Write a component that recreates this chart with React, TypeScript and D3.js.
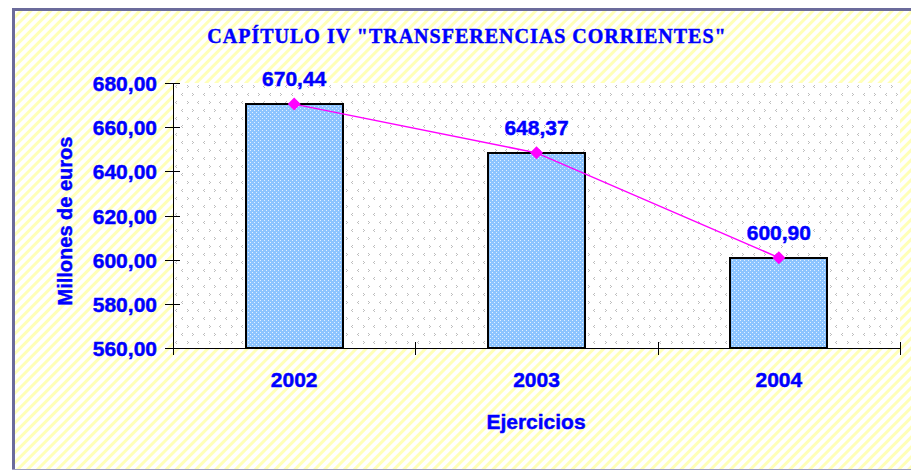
import React from "react";
import * as d3 from "d3";

const categories = ["2002", "2003", "2004"];
const values = [670.44, 648.37, 600.9];
const valueLabels = ["670,44", "648,37", "600,90"];
const yTicks = [560, 580, 600, 620, 640, 660, 680];
const title = "CAPÍTULO IV \"TRANSFERENCIAS CORRIENTES\"";
const yTitle = "Millones de euros";
const xTitle = "Ejercicios";

const W = 911;
const H = 471;
const plot = { left: 173, right: 900, top: 83, bottom: 348 };

export default function App() {
  const x = d3.scaleBand<string>().domain(categories).range([plot.left, plot.right]).paddingInner(0).paddingOuter(0);
  const y = d3.scaleLinear().domain([560, 680]).range([plot.bottom, plot.top]);
  const barW = x.bandwidth() * 0.4;
  const fmt = (v: number) => d3.format(".2f")(v).replace(".", ",");
  const line = d3
    .line<number>()
    .x((_, i) => (x(categories[i]) as number) + x.bandwidth() / 2)
    .y((v) => y(v));
  const blue = "#0000ff";
  const boundaries = [plot.left, ...categories.map((c) => (x(c) as number) + x.bandwidth())];
  const heavy = { stroke: blue, strokeWidth: 0.45 } as const;

  return (
    <svg
      width={W}
      height={H}
      style={{ position: "absolute", left: 0, top: 0, display: "block" }}
      fontFamily="Arial, 'Liberation Sans', sans-serif"
      shapeRendering="crispEdges"
    >
      <defs>
        <pattern id="hatch" width="7" height="7" patternUnits="userSpaceOnUse" patternTransform="rotate(45)">
          <rect width="7" height="7" fill="#ffffff" />
          <rect x="0" y="0" width="3" height="7" fill="#ffffb8" />
        </pattern>
        <pattern id="dots" width="22" height="16" patternUnits="userSpaceOnUse" x={plot.left} y={plot.top}>
          <rect width="22" height="16" fill="#ffffff" />
          <g fill="#bdbdbd">
            <rect x="3" y="2" width="1" height="1" />
            <rect x="2" y="3" width="1" height="1" />
            <rect x="3" y="4" width="1" height="1" />
            <rect x="14" y="2" width="1" height="1" />
            <rect x="15" y="3" width="1" height="1" />
            <rect x="14" y="4" width="1" height="1" />
            <rect x="9" y="10" width="1" height="1" />
            <rect x="8" y="11" width="1" height="1" />
            <rect x="9" y="12" width="1" height="1" />
            <rect x="19" y="10" width="1" height="1" />
            <rect x="20" y="11" width="1" height="1" />
            <rect x="19" y="12" width="1" height="1" />
          </g>
        </pattern>
        <pattern id="check" width="4" height="4" patternUnits="userSpaceOnUse">
          <rect width="4" height="4" fill="#8cc4ff" />
          <rect x="0" y="0" width="1" height="1" fill="#e2f0ff" />
          <rect x="2" y="2" width="1" height="1" fill="#e2f0ff" />
        </pattern>
      </defs>

      <rect x={0} y={0} width={W} height={H} fill="#ffffff" />
      <rect x={12} y={8} width={W - 12} height={462} fill="url(#hatch)" />
      {/* frame */}
      <line x1={13.5} y1={8} x2={13.5} y2={470} stroke="#6b6b9b" strokeWidth={3} />
      <line x1={12} y1={9.5} x2={W} y2={9.5} stroke="#6b6b9b" strokeWidth={3} />
      <line x1={12} y1={469.5} x2={W} y2={469.5} stroke="#a0a0c0" strokeWidth={1} />

      <rect x={plot.left} y={plot.top} width={plot.right - plot.left} height={plot.bottom - plot.top} fill="url(#dots)" />

      <text
        x={467}
        y={43}
        textAnchor="middle"
        fill={blue}
        fontFamily="'Liberation Serif', 'Times New Roman', serif"
        fontWeight="bold"
        fontSize={20}
        letterSpacing={1}
        shapeRendering="auto"
        {...heavy}
      >
        {title}
      </text>

      {categories.map((c, i) => (
        <rect
          key={c}
          x={Math.round((x(c) as number) + (x.bandwidth() - barW) / 2)}
          y={Math.round(y(values[i]))}
          width={Math.round(barW)}
          height={plot.bottom - Math.round(y(values[i]))}
          fill="url(#check)"
          stroke="#000"
          strokeWidth={2}
        />
      ))}

      {/* axes */}
      <line x1={plot.left + 0.5} y1={plot.top} x2={plot.left + 0.5} y2={plot.bottom} stroke="#000" strokeWidth={1} />
      <line x1={plot.left} y1={plot.bottom + 0.5} x2={plot.right} y2={plot.bottom + 0.5} stroke="#000" strokeWidth={1} />
      {yTicks.map((t) => (
        <g key={t}>
          <line x1={plot.left - 8} x2={plot.left + 7} y1={Math.round(y(t)) + 0.5} y2={Math.round(y(t)) + 0.5} stroke="#000" />
          <text x={157} y={y(t) + 8} textAnchor="end" fill={blue} fontWeight="bold" fontSize={21} {...heavy}>
            {fmt(t)}
          </text>
        </g>
      ))}
      {boundaries.map((b, i) => (
        <line key={i} x1={Math.round(b) + 0.5} x2={Math.round(b) + 0.5} y1={plot.bottom - 6} y2={plot.bottom + 7} stroke="#000" />
      ))}
      {categories.map((c) => (
        <text
          key={c}
          x={(x(c) as number) + x.bandwidth() / 2}
          y={387}
          textAnchor="middle"
          fill={blue}
          fontWeight="bold"
          fontSize={21}
          {...heavy}
        >
          {c}
        </text>
      ))}

      <path d={line(values) || ""} fill="none" stroke="#ff00ff" strokeWidth={1.5} shapeRendering="auto" />
      {values.map((v, i) => {
        const cx = (x(categories[i]) as number) + x.bandwidth() / 2;
        const cy = y(v);
        return (
          <g key={i}>
            <path
              d={`M${cx},${cy - 6.5}L${cx + 6.5},${cy}L${cx},${cy + 6.5}L${cx - 6.5},${cy}Z`}
              fill="#ff00ff"
              shapeRendering="auto"
            />
            <text x={cx} y={cy - 18} textAnchor="middle" fill={blue} fontWeight="bold" fontSize={21} {...heavy}>
              {valueLabels[i]}
            </text>
          </g>
        );
      })}

      <text
        transform={`translate(72,${221}) rotate(-90)`}
        textAnchor="middle"
        fill={blue}
        fontWeight="bold"
        fontSize={20}
        {...heavy}
      >
        {yTitle}
      </text>
      <text x={536} y={429} textAnchor="middle" fill={blue} fontWeight="bold" fontSize={21} {...heavy}>
        {xTitle}
      </text>
    </svg>
  );
}
